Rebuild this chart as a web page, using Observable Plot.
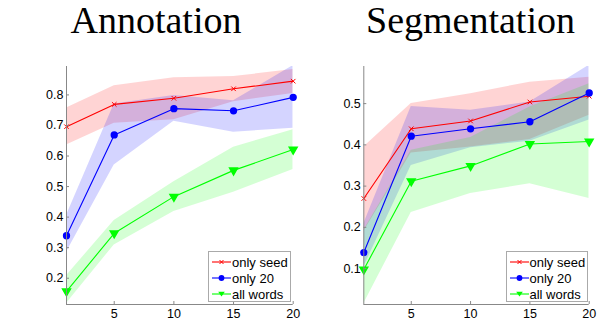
<!DOCTYPE html>
<html>
<head>
<meta charset="utf-8">
<script src="https://cdn.jsdelivr.net/npm/d3@7"></script>
<script src="https://cdn.jsdelivr.net/npm/@observablehq/plot@0.6"></script>
<style>
  body { margin: 0; background: #fff; }
  #root { position: relative; width: 602px; height: 321px; overflow: hidden; }
  .panel { position: absolute; top: 0; }
  .title { position: absolute; font-family: "Liberation Serif", "Times New Roman", serif; font-size: 38px; line-height: 38px; white-space: nowrap; transform: translateX(-50%); color: #000; }
  .legend { position: absolute; background: #fff; border: 1px solid #aaa; box-sizing: border-box; font-family: "Liberation Sans", Arial, sans-serif; font-size: 13px; }
  .legend .row { position: absolute; left: 0; height: 16px; display: flex; align-items: center; white-space: nowrap; }
  .legend svg { display: block; }
</style>
</head>
<body>
<div id="root"></div>
<script>
const xs = [1, 5, 10, 15, 20];
const seriesNames = ["only seed", "only 20", "all words"];
const seriesColors = ["#ff0000", "#0000ff", "#00ff00"];

// Annotation panel
const annSeed   = [0.696, 0.769, 0.789, 0.820, 0.845];
const annSeedLo = [0.636, 0.707, 0.719, 0.778, 0.805];
const annSeedHi = [0.757, 0.830, 0.856, 0.860, 0.883];
const ann20     = [0.339, 0.669, 0.755, 0.748, 0.792];
const ann20Lo   = [0.285, 0.571, 0.714, 0.678, 0.691];
const ann20Hi   = [0.405, 0.770, 0.798, 0.781, 0.896];
const annAll    = [0.157, 0.347, 0.467, 0.553, 0.621];
const annAllLo  = [0.117, 0.309, 0.418, 0.481, 0.556];
const annAllHi  = [0.208, 0.389, 0.516, 0.629, 0.686];
const annYTicks = [0.2, 0.3, 0.4, 0.5, 0.6, 0.7, 0.8];

// Segmentation panel
const segSeed   = [0.270, 0.439, 0.458, 0.504, 0.518];
const segSeedLo = [0.190, 0.380, 0.395, 0.413, 0.472];
const segSeedHi = [0.395, 0.500, 0.524, 0.552, 0.564];
const seg20     = [0.139, 0.421, 0.439, 0.456, 0.526];
const seg20Lo   = [0.104, 0.350, 0.393, 0.409, 0.460];
const seg20Hi   = [0.209, 0.493, 0.484, 0.504, 0.593];
const segAll    = [0.098, 0.312, 0.349, 0.402, 0.408];
const segAllLo  = [0.015, 0.236, 0.282, 0.306, 0.270];
const segAllHi  = [0.193, 0.387, 0.418, 0.492, 0.548];
const segYTicks = [0.1, 0.2, 0.3, 0.4, 0.5];

const xTicks = [5, 10, 15, 20];

function rows(mid, lo, hi) {
  return xs.map((x, i) => ({x, y: mid[i], lo: lo[i], hi: hi[i]}));
}

function makePanel(cfg) {
  const sets = cfg.series.map(s => rows(s[0], s[1], s[2]));
  const marks = [];
  sets.forEach((d, i) => {
    marks.push(Plot.areaY(d, {x: "x", y1: "lo", y2: "hi", fill: seriesColors[i], fillOpacity: 0.17, clip: true}));
  });
  sets.forEach((d, i) => {
    marks.push(Plot.line(d, {x: "x", y: "y", stroke: seriesColors[i], strokeWidth: 1.1}));
  });
  marks.push(Plot.dot(sets[0], {x: "x", y: "y", symbol: "times", r: 2.2, stroke: seriesColors[0], strokeWidth: 1}));
  marks.push(Plot.dot(sets[1], {x: "x", y: "y", symbol: "circle", r: 2.9, fill: seriesColors[1], stroke: seriesColors[1]}));
  marks.push(Plot.dot(sets[2], {x: "x", y: "y", symbol: "triangle", rotate: 180, r: 2.9, fill: seriesColors[2], stroke: seriesColors[2]}));
  marks.push(Plot.ruleX([1], {stroke: "#888"}));
  marks.push(Plot.ruleY([cfg.domain[0]], {stroke: "#888"}));
  marks.push(Plot.axisY(cfg.yTicks, {anchor: "left", label: null, tickSize: -3, tickPadding: 6, stroke: "#888", tickFormat: d3.format(".1f"), fill: "#000", fontSize: 12.5}));
  marks.push(Plot.axisX(xTicks, {anchor: "bottom", label: null, tickSize: -3, tickPadding: 8, stroke: "#888", fill: "#000", fontSize: 12.5}));
  return Plot.plot({
    width: 301, height: 321,
    marginLeft: cfg.ml, marginRight: cfg.mr, marginTop: 66, marginBottom: 17,
    x: {domain: [1, 20], label: null},
    y: {domain: cfg.domain, label: null},
    style: {fontFamily: "'Liberation Sans', Arial, sans-serif", fontSize: "12.5px", background: "transparent", overflow: "visible"},
    marks
  });
}

function makeLegend(left, top, width, height, lineW) {
  const el = document.createElement("div");
  el.className = "legend";
  Object.assign(el.style, {left: left + "px", top: top + "px", width: width + "px", height: height + "px"});
  const ys = [2, 18, 34];
  seriesNames.forEach((name, i) => {
    const row = document.createElement("div");
    row.className = "row";
    row.style.top = ys[i] + "px";
    const c = seriesColors[i];
    let sym = "";
    const x0 = 3;
    const cx = x0 + lineW / 2;
    if (i === 0) sym = `<path d="M${cx-2},6 L${cx+2},10 M${cx-2},10 L${cx+2},6" stroke="${c}" stroke-width="1"/>`;
    if (i === 1) sym = `<circle cx="${cx}" cy="8" r="2.9" fill="${c}"/>`;
    if (i === 2) sym = `<path d="M${cx-3.3},5.8 L${cx+3.3},5.8 L${cx},10.6 Z" fill="${c}"/>`;
    row.innerHTML = `<svg width="${x0 + lineW + 1}" height="16"><line x1="${x0}" x2="${x0 + lineW}" y1="8" y2="8" stroke="${c}" stroke-width="1.1"/>${sym}</svg><span>${name}</span>`;
    el.appendChild(row);
  });
  return el;
}

const root = document.getElementById("root");

const p1 = makePanel({
  ml: 66, mr: 8.3, domain: [0.114, 0.893], yTicks: annYTicks,
  series: [[annSeed, annSeedLo, annSeedHi], [ann20, ann20Lo, ann20Hi], [annAll, annAllLo, annAllHi]]
});
p1.classList.add("panel"); p1.style.left = "0px";
root.appendChild(p1);

const p2 = makePanel({
  ml: 62.3, mr: 13.3, domain: [0.013, 0.590], yTicks: segYTicks,
  series: [[segSeed, segSeedLo, segSeedHi], [seg20, seg20Lo, seg20Hi], [segAll, segAllLo, segAllHi]]
});
p2.classList.add("panel"); p2.style.left = "301px";
root.appendChild(p2);

const t1 = document.createElement("div");
t1.className = "title"; t1.textContent = "Annotation";
t1.style.left = "156px"; t1.style.top = "1px";
root.appendChild(t1);
const t2 = document.createElement("div");
t2.className = "title"; t2.textContent = "Segmentation";
t2.style.left = "470.5px"; t2.style.top = "1px";
root.appendChild(t2);

root.appendChild(makeLegend(208, 251, 83, 51, 19));
root.appendChild(makeLegend(505.5, 251, 82, 51, 19));
</script>
</body>
</html>
